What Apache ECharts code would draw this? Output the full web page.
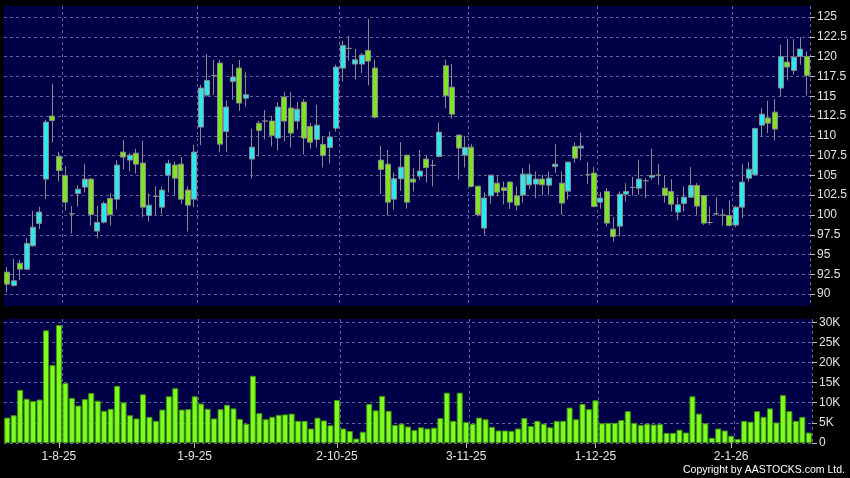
<!DOCTYPE html>
<html>
<head>
<meta charset="utf-8">
<title>AASTOCKS daily chart</title>
<script src="https://cdn.jsdelivr.net/npm/echarts@6/dist/echarts.min.js"></script>
<style>
  html, body { margin: 0; padding: 0; background: #000; }
  #chart { width: 850px; height: 478px; }
</style>
</head>
<body>
<div id="chart"></div>
<script>
// trading days, month-year -> day numbers
const tradingDays = [
  ['7-25', [22, 23, 24, 25, 28, 29, 30, 31]],
  ['8-25', [1, 4, 5, 6, 7, 8, 11, 12, 13, 14, 15, 18, 19, 20, 21, 22, 25, 26, 27, 28, 29]],
  ['9-25', [1, 2, 3, 4, 5, 8, 9, 10, 11, 12, 15, 16, 17, 18, 19, 22, 23, 24, 25, 26, 29, 30]],
  ['10-25', [2, 3, 6, 8, 9, 10, 13, 14, 15, 16, 17, 20, 21, 22, 23, 24, 27, 28, 30, 31]],
  ['11-25', [3, 4, 5, 6, 7, 10, 11, 12, 13, 14, 17, 18, 19, 20, 21, 24, 25, 26, 27, 28]],
  ['12-25', [1, 2, 3, 4, 5, 8, 9, 10, 11, 12, 15, 16, 17, 18, 19, 22, 23, 24, 29, 30, 31]],
  ['1-26', [2, 5, 6, 7, 8, 9, 12, 13, 14, 15, 16, 19, 20]]
];
const dateLabels = ['1-8-25', '1-9-25', '2-10-25', '3-11-25', '1-12-25', '2-1-26'];

const opens = [
  92.78, 91.09, 93.91, 93.15, 96.10, 98.93, 104.53, 112.49, 107.39, 104.99,
  100.15, 102.72, 103.52, 104.53, 97.96, 99.09, 102.08, 102.00, 107.94, 106.93,
  107.81, 106.55, 99.94, 102.34, 100.99, 105.03, 106.30, 106.42, 103.14, 102.00,
  111.10, 115.14, 117.63, 119.19, 110.55, 116.87, 118.56, 114.76, 107.06, 111.60,
  111.86, 111.86, 109.71, 114.89, 113.50, 111.86, 114.26, 111.18, 109.54, 108.91,
  108.53, 110.97, 118.56, 121.04, 119.06, 119.06, 120.79, 118.56, 106.93, 106.42,
  102.00, 104.57, 107.56, 104.53, 104.91, 107.06, 106.26, 107.39, 118.85, 116.15,
  110.09, 107.56, 108.57, 103.64, 98.34, 102.42, 104.02, 103.43, 104.15, 102.42,
  102.51, 103.81, 103.90, 104.53, 103.77, 106.13, 104.02, 103.01, 108.66, 108.45,
  105.08, 105.29, 101.62, 102.97, 98.21, 98.59, 102.63, 103.48, 103.39, 104.32,
  104.78, 105.03, 103.39, 102.97, 100.36, 101.45, 102.25, 103.73, 102.46, 99.05,
  100.15, 99.98, 99.94, 98.72, 100.99, 104.65, 105.08, 111.35, 112.24, 112.99,
  116.03, 119.31, 118.26, 120.03, 120.03
];
const closes = [
  91.26, 91.68, 93.15, 96.40, 98.46, 100.36, 111.73, 111.94, 105.62, 101.62,
  100.15, 103.26, 104.53, 100.06, 99.05, 101.45, 100.06, 106.30, 107.31, 107.56,
  106.42, 100.99, 101.24, 102.34, 103.14, 106.51, 104.65, 102.00, 101.24, 107.94,
  116.03, 117.00, 117.63, 108.95, 113.63, 117.42, 114.13, 115.19, 108.57, 110.68,
  111.86, 110.05, 113.63, 111.86, 110.34, 113.37, 109.71, 109.20, 111.35, 107.52,
  109.84, 118.68, 121.42, 121.04, 119.61, 120.20, 119.44, 112.36, 105.75, 101.62,
  104.57, 106.04, 101.62, 104.15, 105.54, 106.00, 106.26, 110.47, 115.06, 112.74,
  108.45, 108.53, 103.60, 100.06, 102.13, 105.03, 102.88, 103.10, 101.62, 101.24,
  105.16, 105.16, 104.53, 103.81, 104.65, 106.42, 101.50, 106.68, 107.18, 108.70,
  105.08, 101.07, 102.13, 98.97, 97.28, 102.63, 102.97, 103.48, 104.53, 104.32,
  104.99, 105.03, 102.46, 101.37, 101.28, 102.25, 103.73, 101.12, 98.97, 99.05,
  100.15, 99.98, 98.67, 100.99, 104.15, 105.79, 110.93, 112.74, 111.60, 110.85,
  120.03, 118.68, 119.95, 120.96, 117.63
];
const lows = [
  90.25, 90.96, 91.76, 93.07, 96.00, 98.21, 102.04, 109.16, 104.23, 100.57,
  97.66, 101.07, 102.84, 98.67, 97.07, 98.93, 98.67, 100.69, 105.75, 105.50,
  105.24, 99.73, 99.18, 100.02, 100.10, 102.84, 102.55, 101.37, 97.91, 100.99,
  108.83, 114.93, 115.19, 107.90, 107.94, 114.55, 113.16, 113.71, 104.61, 107.39,
  109.54, 108.66, 108.15, 109.29, 108.53, 110.80, 107.65, 108.36, 108.53, 106.00,
  106.51, 110.55, 116.87, 119.52, 117.12, 117.92, 116.36, 112.19, 102.67, 99.94,
  100.69, 103.05, 100.78, 102.97, 104.44, 104.11, 103.60, 107.27, 113.46, 112.19,
  104.49, 106.00, 103.48, 99.81, 97.49, 101.41, 102.34, 101.33, 100.74, 100.57,
  101.58, 103.22, 102.13, 102.46, 102.46, 105.29, 100.02, 101.96, 106.59, 106.89,
  103.90, 100.95, 100.80, 98.55, 96.65, 97.28, 101.71, 102.46, 102.55, 102.13,
  104.44, 103.81, 101.58, 100.44, 99.31, 100.44, 102.13, 100.02, 98.76, 98.76,
  99.94, 98.67, 98.55, 98.46, 99.60, 104.23, 104.99, 109.84, 110.34, 109.41,
  114.97, 117.00, 117.71, 118.98, 115.10
];
const highs = [
  93.41, 94.46, 94.33, 97.07, 100.53, 101.03, 112.03, 116.58, 107.98, 106.17,
  101.12, 103.77, 106.47, 104.65, 101.16, 101.71, 102.76, 106.89, 109.50, 107.81,
  108.36, 109.37, 102.76, 103.60, 103.60, 106.97, 106.76, 107.31, 103.60, 108.87,
  116.45, 120.32, 119.61, 119.61, 114.51, 119.06, 119.61, 118.05, 110.89, 111.90,
  113.25, 112.53, 114.26, 115.52, 115.52, 114.26, 114.64, 111.60, 113.92, 109.92,
  110.55, 118.98, 122.01, 122.64, 121.00, 120.45, 124.79, 119.61, 108.74, 108.23,
  105.37, 109.20, 107.56, 105.92, 108.23, 107.60, 106.97, 111.69, 119.61, 119.06,
  110.09, 110.00, 108.95, 103.64, 102.84, 105.03, 105.03, 104.23, 104.23, 103.60,
  105.92, 106.42, 105.50, 105.08, 105.50, 108.95, 105.50, 106.68, 109.16, 110.38,
  106.68, 106.04, 102.88, 103.39, 99.73, 102.97, 104.02, 104.82, 106.97, 104.65,
  108.36, 106.47, 104.99, 104.53, 102.25, 103.60, 106.04, 104.02, 102.46, 101.07,
  102.25, 100.78, 101.83, 101.16, 106.42, 106.68, 110.93, 113.50, 114.43, 114.64,
  121.50, 122.26, 122.22, 122.47, 120.66
];
// volume in thousands of shares
const volumesK = [
  6.3, 6.9, 13.2, 11.0, 10.4, 10.8, 28.0, 19.4, 29.3, 14.9,
  11.2, 9.3, 10.9, 12.4, 10.5, 8.0, 8.5, 14.2, 10.1, 6.9,
  6.1, 12.1, 6.5, 5.5, 8.3, 11.6, 13.6, 8.3, 8.4, 11.6,
  9.8, 8.5, 6.1, 8.4, 9.5, 8.6, 6.0, 4.8, 16.7, 7.4,
  5.9, 6.5, 7.0, 7.1, 7.3, 5.5, 5.5, 3.6, 6.3, 5.6,
  4.4, 10.7, 3.6, 3.0, 1.1, 2.8, 9.7, 8.1, 11.7, 8.0,
  4.5, 4.8, 4.1, 3.2, 3.9, 3.6, 3.8, 6.2, 12.5, 5.5,
  12.5, 5.2, 4.8, 6.3, 5.9, 4.0, 3.1, 3.1, 3.0, 3.6,
  6.2, 4.2, 5.5, 4.8, 3.9, 5.5, 5.5, 8.8, 5.9, 9.7,
  8.4, 10.6, 4.9, 5.0, 5.0, 5.7, 7.9, 5.0, 4.5, 4.8,
  4.6, 4.7, 2.5, 2.5, 3.3, 2.6, 11.6, 7.3, 4.9, 1.3,
  3.6, 3.1, 1.8, 1.0, 5.5, 5.3, 7.9, 6.5, 8.6, 5.1,
  11.9, 7.9, 5.5, 6.5, 2.6
];
const priceTicks = [90, 92.5, 95, 97.5, 100, 102.5, 105, 107.5, 110, 112.5, 115, 117.5, 120, 122.5, 125];
const volumeTicks = [0, 5, 10, 15, 20, 25, 30];

const dates = [];
tradingDays.forEach(function (m) {
  m[1].forEach(function (d) { dates.push(d + '-' + m[0]); });
});
const candles = opens.map(function (o, i) {
  return [o, closes[i], lows[i], highs[i]];
});

const isLabelDay = function (idx) { return dateLabels.indexOf(dates[idx]) >= 0; };
// vertical grid lines sit on the boundary right after a labelled day
const isSplitDay = function (idx) { return idx > 0 && dateLabels.indexOf(dates[idx - 1]) >= 0; };

const gridLine = { color: '#62629a', width: 1, type: [3, 3] };
const textColor = '#e4e4e4';
const font = '"Liberation Sans", Arial, sans-serif';

const chart = echarts.init(document.getElementById('chart'), null, { renderer: 'canvas' });
chart.setOption({
  animation: false,
  backgroundColor: '#000',
  grid: [
    { left: 4, top: 6, width: 808, height: 300, show: true, backgroundColor: '#000048', borderWidth: 0 },
    { left: 4, top: 319, width: 808, height: 124, show: true, backgroundColor: '#000048', borderWidth: 0 }
  ],
  xAxis: [
    {
      type: 'category', gridIndex: 0, data: dates,
      axisLine: { show: false }, axisTick: { show: false }, axisLabel: { show: false },
      splitLine: { show: true, interval: isSplitDay, lineStyle: gridLine }
    },
    {
      type: 'category', gridIndex: 1, data: dates,
      axisLine: { show: false },
      axisTick: { show: true, alignWithLabel: true, interval: isLabelDay, length: 5, lineStyle: { color: '#bbb' } },
      axisLabel: { interval: isLabelDay, color: textColor, fontSize: 12, fontFamily: font, margin: 8 },
      splitLine: { show: true, interval: isSplitDay, lineStyle: gridLine }
    }
  ],
  yAxis: [
    {
      type: 'value', gridIndex: 0, position: 'right', min: 88.5, max: 126.4,
      axisLine: { show: false },
      axisTick: { show: true, length: 5, customValues: priceTicks, lineStyle: { color: '#bbb' } },
      axisLabel: { customValues: priceTicks, color: textColor, fontSize: 12, fontFamily: font, margin: 7 },
      splitLine: { show: true, lineStyle: gridLine }
    },
    {
      type: 'value', gridIndex: 1, position: 'right', min: 0, max: 30.8,
      axisLine: { show: false },
      axisTick: { show: true, length: 5, customValues: volumeTicks, lineStyle: { color: '#bbb' } },
      axisLabel: {
        customValues: volumeTicks, color: textColor, fontSize: 12, fontFamily: font, margin: 7,
        formatter: function (v) { return v === 0 ? '0' : v + 'K'; }
      },
      splitLine: { show: true, lineStyle: gridLine }
    }
  ],
  series: [
    {
      name: 'Price', type: 'candlestick', xAxisIndex: 0, yAxisIndex: 0,
      data: candles, barWidth: 5.5,
      itemStyle: {
        color: '#2ee6f0', color0: '#7de322',
        borderColor: '#8a8a8a', borderColor0: '#8a8a8a', borderColorDoji: '#8a8a8a',
        borderWidth: 1
      }
    },
    {
      name: 'Volume', type: 'bar', xAxisIndex: 1, yAxisIndex: 1,
      data: volumesK, barWidth: 6,
      itemStyle: { color: '#7efc1e', borderColor: '#3f9410', borderWidth: 1 }
    }
  ],
  graphic: [
    {
      type: 'text', right: 5, top: 465,
      style: { text: 'Copyright by AASTOCKS.com Ltd.', fill: '#fff', font: '10.5px ' + font }
    }
  ]
});
</script>
</body>
</html>
